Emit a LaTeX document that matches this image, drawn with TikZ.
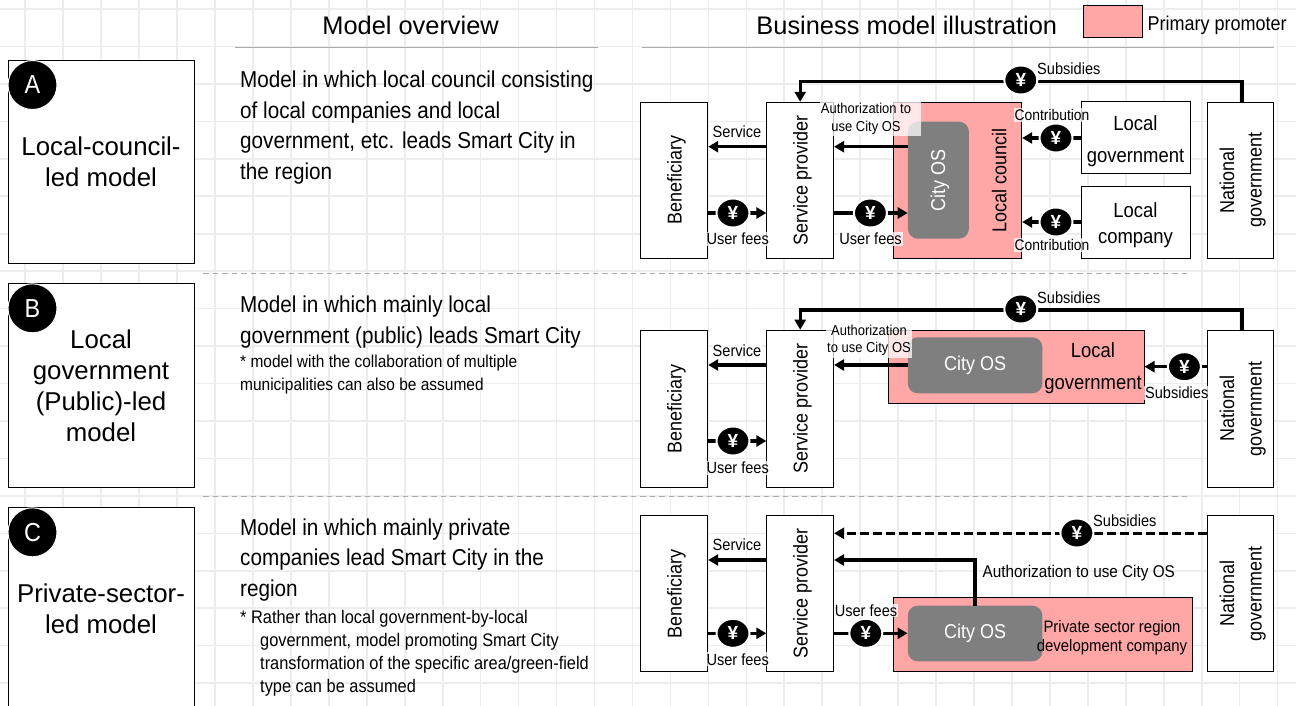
\documentclass[tikz,border=0pt]{standalone}
\usepackage{fontspec}
\usepackage{graphicx}
\setmainfont{Liberation Sans}
\newfontfamily\narrowfont[FakeStretch=0.9]{Liberation Sans}
\usetikzlibrary{arrows.meta,shapes.geometric}
\definecolor{promoter}{HTML}{FFA6A6}
\definecolor{cityos}{HTML}{7F7F7F}
\definecolor{gridline}{HTML}{EDEDED}
\definecolor{rule}{HTML}{ABABAB}
\newcommand\vt[1]{\hspace*{4pt}\rotatebox{90}{\begin{tabular}{@{}c@{}}#1\end{tabular}}}

\begin{document}
\begin{tikzpicture}[
		x=1pt,y=-1pt,
		modelbox/.style={draw=black,line width=1pt,fill=white,minimum width=186,align=center,font=\fontsize{25.8}{31}\selectfont},
		badge/.style={circle,fill=black,draw=white,line width=1pt,minimum size=49,inner sep=0,text=white,font=\narrowfont\fontsize{26}{30}\selectfont},
		head/.style={font=\fontsize{25.4}{30}\selectfont,inner sep=0},
		body/.style={anchor=north west,inner sep=0,align=left,font=\narrowfont\fontsize{23}{30.5}\selectfont},
		note/.style={anchor=north west,inner sep=0,align=left,font=\narrowfont\fontsize{17.2}{23}\selectfont},
		actor/.style={draw=black,line width=1pt,fill=white,inner sep=0,align=center,font=\narrowfont\fontsize{20}{27.5}\selectfont},
		party/.style={actor,minimum width=109,minimum height=72,font=\narrowfont\fontsize{20.5}{32}\selectfont},
		lead/.style={draw=black,line width=1pt,fill=promoter,inner sep=0,align=center},
		osbox/.style={fill=cityos,rounded corners=10pt,inner sep=0,text=white,font=\narrowfont\fontsize{20}{24}\selectfont},
		tag/.style={fill=white,fill opacity=.75,text opacity=1,inner sep=1pt,align=center,font=\narrowfont\fontsize{16.2}{18}\selectfont},
		yen/.style={ellipse,fill=black,draw=white,line width=2pt,minimum width=33,minimum height=29,inner sep=0,text=white,font=\bfseries\fontsize{19}{20}\selectfont},
		flow/.style={line width=3.4pt,-{Triangle[length=10pt,width=11pt]}},
		sep/.style={rule,line width=1pt,dash pattern=on 5.5pt off 4pt},
		headrule/.style={rule,line width=1.6pt}
	]
	\useasboundingbox (0,0) rectangle (1296,706);
	\clip (0,0) rectangle (1296,706);

	% grid behind everything
	\foreach \i in {0,...,33} \draw[gridline,line width=1.6pt] (25.25+37.95*\i,0)--(25.25+37.95*\i,706);
	\foreach \i in {0,...,18} \draw[gridline,line width=1.6pt] (0,9+37.45*\i)--(1296,9+37.45*\i);

	% header
	\node [head] (h0) at (410.6,25) {Model overview};
	\node [head] (h1) at (906.8,25) {Business model illustration};
	\coordinate (r0a) at (235,47.7);
	\coordinate (r0b) at (598.4,47.7);
	\coordinate (r1a) at (641.5,47.7);
	\coordinate (r1b) at (1274.4,47.7);
	\draw[headrule] (r0a)--(r0b);
	\draw[headrule] (r1a)--(r1b);
	\node [lead,minimum width=59,minimum height=31.6] (k0) at (1113.2,21.5) {};
	\node [inner sep=0,anchor=west,font=\narrowfont\fontsize{20}{22}\selectfont] (k1) at (1147.5,25.5) {Primary promoter};

	\coordinate (s0a) at (203,273);
	\coordinate (s0b) at (1191,273);
	\coordinate (s1a) at (203,496);
	\coordinate (s1b) at (1191,496);
	\draw[sep] (s0a)--(s0b);
	\draw[sep] (s1a)--(s1b);

	% left column
	\node [modelbox,minimum height=203] (m0) at (101,161.7) {Local-council-\\led model};
	\node [modelbox,minimum height=204] (m1) at (101,385.3) {Local\\government\\(Public)-led\\model};
	\node [modelbox,minimum height=204] (m2) at (101,609) {Private-sector-\\led model};
	\node [badge] (b0) at (32.5,85) {A};
	\node [badge] (b1) at (32.5,308.3) {B};
	\node [badge] (b2) at (32.5,532.3) {C};

	% overview column
	\node [body] (t0) at (240,71) {Model in which local council consisting\\of local companies and local\\government, etc. leads Smart City in\\the region};
	\node [body] (t1) at (240,296) {Model in which mainly local\\government (public) leads Smart City};
	\node [note] (n1) at (240,355) {* model with the collaboration of multiple\\municipalities can also be assumed};
	\node [body] (t2) at (240,518.5) {Model in which mainly private\\companies lead Smart City in the\\region};
	\node [note,font=\narrowfont\fontsize{18.2}{23}\selectfont] (n2) at (240,610) {* Rather than local government-by-local\\\hspace{20pt}government, model promoting Smart City\\\hspace{20pt}transformation of the specific area/green-field\\\hspace{20pt}type can be assumed};

	% row A
	\node [actor,minimum width=67,minimum height=156] (aB) at (674.2,180.3) {\vt{Beneficiary}};
	\node [actor,minimum width=66.7,minimum height=156] (aS) at (800.2,180.3) {\vt{Service provider}};
	\node [lead,minimum width=128.3,minimum height=156] (aL) at (957.5,180.3) {};
	\node [osbox,minimum width=61,minimum height=117] (aC) at (938.4,180.2) {\vt{City OS}};
	\node [inner sep=0,font=\narrowfont\fontsize{20}{24}\selectfont] (aLt) at (999.6,180) {\vt{Local council}};
	\node [party] (aG) at (1135.5,138) {\rule{0pt}{21pt}Local\\government};
	\node [party,font=\narrowfont\fontsize{20.5}{26}\selectfont] (aP) at (1135.5,222) {\rule{0pt}{21pt}Local\\company};
	\node [actor,minimum width=66.6,minimum height=156] (aN) at (1240.3,180.3) {\vt{National\\government}};
	\coordinate (a0) at (0,81.7);
	\coordinate (a1) at (0,146.7);
	\coordinate (a2) at (0,213);
	\draw[flow] (aN.north -| 1242,0)--(1242,81.7)--(aS.north |- a0)--(aS.north);
	\draw[flow] (aS.west |- a1)--(aB.east |- a1);
	\draw[flow] (aC.west |- a1)--(aS.east |- a1);
	\draw[flow] (aB.east |- a2)--(aS.west |- a2);
	\draw[flow] (aS.east |- a2)--(aC.west |- a2);
	\draw[flow] (aG.west)--(aL.east |- aG);
	\draw[flow] (aP.west)--(aL.east |- aP);
	\node [yen] (ay0) at (1020.8,80) {¥};
	\node [yen] (ay1) at (733,213) {¥};
	\node [yen] (ay2) at (870.4,213) {¥};
	\node [yen] (ay3) at (1056,138) {¥};
	\node [yen] (ay4) at (1056,222) {¥};
	\node [tag,fill opacity=0,anchor=west] (al0) at (1036,69) {Subsidies};
	\node [tag] (al1) at (737,131.5) {Service};
	\node [tag] (al2) at (737.7,238.7) {User fees};
	\node [tag] (al3) at (870.6,238.7) {User fees};
	\node [tag,font=\narrowfont\fontsize{14.4}{17.7}\selectfont,minimum width=101,minimum height=34] (al4) at (870.5,119) {Authorization to\rule{9pt}{0pt}\\use City OS\rule{9pt}{0pt}};
	\node [tag,font=\narrowfont\fontsize{15.4}{18}\selectfont] (al5) at (1052,115) {Contribution};
	\node [tag,font=\narrowfont\fontsize{15.4}{18}\selectfont] (al6) at (1052,245) {Contribution};

	% row B
	\node [actor,minimum width=67,minimum height=157] (bB) at (674.2,408.7) {\vt{Beneficiary}};
	\node [actor,minimum width=66.7,minimum height=157] (bS) at (800.2,408.7) {\vt{Service provider}};
	\node [lead,minimum width=256,minimum height=73.3] (bL) at (1016,366.7) {};
	\node [osbox,minimum width=134.7,minimum height=56] (bC) at (975.1,365.3) {City OS};
	\node [inner sep=0,align=center,font=\narrowfont\fontsize{20.5}{32}\selectfont] (bLt) at (1093,368) {Local\\government};
	\node [actor,minimum width=66.6,minimum height=157] (bN) at (1240.3,408.7) {\vt{National\\government}};
	\coordinate (b0) at (0,310);
	\coordinate (b1) at (0,365);
	\coordinate (b2) at (0,441);
	\coordinate (b3) at (0,366.7);
	\draw[flow] (bN.north -| 1242,0)--(1242,310)--(bS.north |- b0)--(bS.north);
	\draw[flow] (bS.west |- b1)--(bB.east |- b1);
	\draw[flow] (bC.west |- b1)--(bS.east |- b1);
	\draw[flow] (bB.east |- b2)--(bS.west |- b2);
	\draw[flow] (bN.west |- b3)--(bL.east |- b3);
	\node [yen] (by0) at (1020.8,309) {¥};
	\node [yen] (by1) at (733,441) {¥};
	\node [yen] (by2) at (1184.4,366.7) {¥};
	\node [tag,fill opacity=0,anchor=west] (bl0) at (1036,298) {Subsidies};
	\node [tag] (bl1) at (737,350.5) {Service};
	\node [tag] (bl2) at (737.7,467.7) {User fees};
	\node [tag] (bl3) at (1176.7,392.7) {Subsidies};
	\node [tag,font=\narrowfont\fontsize{14.4}{16.6}\selectfont,minimum width=86,minimum height=34] (bl4) at (869,340.5) {Authorization\\to use City OS};

	% row C
	\node [actor,minimum width=67,minimum height=156] (cB) at (674.2,593.7) {\vt{Beneficiary}};
	\node [actor,minimum width=66.7,minimum height=156] (cS) at (800.2,593.7) {\vt{Service provider}};
	\node [lead,minimum width=299.5,minimum height=73.7] (cL) at (1043.1,634.8) {};
	\node [osbox,minimum width=134.7,minimum height=55.6] (cC) at (975.1,633.5) {City OS};
	\node [inner sep=0,align=center,font=\narrowfont\fontsize{16.6}{19}\selectfont] (cLt) at (1112,637.5) {Private sector region\\development company};
	\node [actor,minimum width=66.6,minimum height=156] (cN) at (1240.3,593.7) {\vt{National\\government}};
	\coordinate (c0) at (0,533.3);
	\coordinate (c1) at (0,560);
	\coordinate (c2) at (0,633.3);
	\draw[flow,dashed,dash pattern=on 9pt off 4pt] (cN.west |- c0)--(cS.east |- c0);
	\draw[flow] (cS.west |- c1)--(cB.east |- c1);
	\draw[flow] (cC.north)--(cC.north |- c1)--(cS.east |- c1);
	\draw[flow] (cB.east |- c2)--(cS.west |- c2);
	\draw[flow] (cS.east |- c2)--(cC.west |- c2);
	\node [yen] (cy0) at (1076.9,533) {¥};
	\node [yen] (cy1) at (733,633.3) {¥};
	\node [yen] (cy2) at (865.8,633.3) {¥};
	\node [tag,fill opacity=0,anchor=west] (cl0) at (1092,521) {Subsidies};
	\node [tag] (cl1) at (737,544.5) {Service};
	\node [tag] (cl2) at (737.7,659.3) {User fees};
	\node [tag] (cl3) at (866,610.5) {User fees};
	\node [tag,fill opacity=0,font=\narrowfont\fontsize{17}{18}\selectfont,anchor=west] (cl4) at (981.5,573) {Authorization to use City OS};
\end{tikzpicture}
\end{document}
